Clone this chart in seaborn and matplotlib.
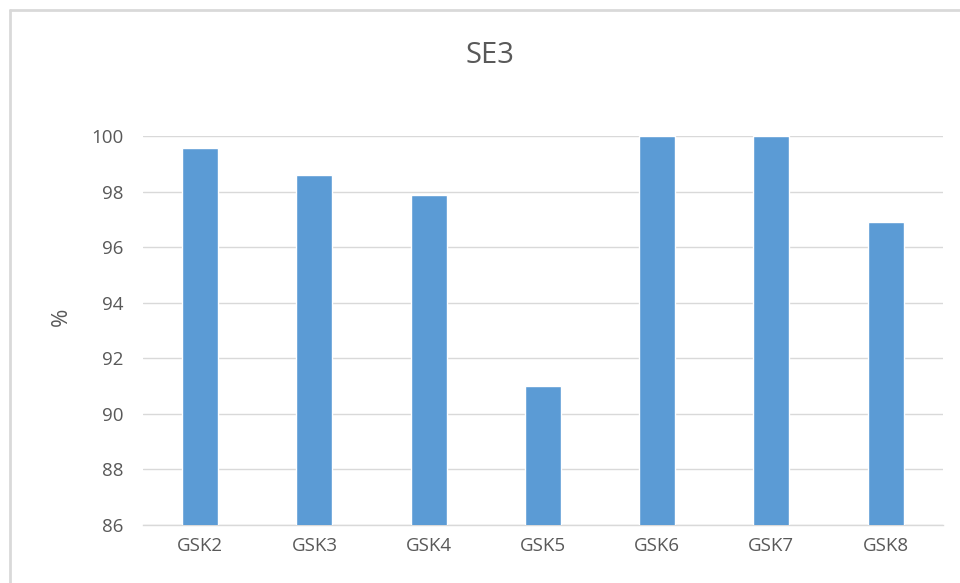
import matplotlib
matplotlib.use("Agg")
import matplotlib.pyplot as plt
from matplotlib.lines import Line2D
import seaborn as sns
import pandas as pd

categories = ["GSK2", "GSK3", "GSK4", "GSK5", "GSK6", "GSK7", "GSK8"]
values = [99.6, 98.6, 97.9, 91.0, 100.0, 100.0, 96.9]
y_ticks = [86, 88, 90, 92, 94, 96, 98, 100]

sns.set_theme(style="white")
plt.rcParams["font.family"] = ["Open Sans", "DejaVu Sans"]

text_color = "#595959"
grid_color = "#d9d9d9"
bar_color = "#5b9bd5"

df = pd.DataFrame({"group": categories, "pct": values})

fig = plt.figure(figsize=(9.6, 5.83), dpi=100)
fig.patch.set_facecolor("white")
ax = fig.add_axes([0.149, 0.0995, 0.833, 0.6665])

sns.barplot(data=df, x="group", y="pct", color=bar_color, width=0.315,
            saturation=1, ax=ax, zorder=3)

ax.set_ylim(86, 100)
ax.set_yticks(y_ticks)
ax.set_yticklabels([str(t) for t in y_ticks])
ax.yaxis.grid(True, color=grid_color, linewidth=1.0, zorder=0)
ax.set_axisbelow(True)

for side in ["top", "right", "left"]:
    ax.spines[side].set_visible(False)
ax.spines["bottom"].set_color(grid_color)
ax.spines["bottom"].set_linewidth(1.0)

ax.tick_params(axis="both", length=0, labelsize=13.5, colors=text_color)
ax.tick_params(axis="y", pad=14)
ax.tick_params(axis="x", pad=9)
ax.set_xlabel("")
ax.set_ylabel("")

fig.text(61 / 960, 1 - 317 / 583, "%", rotation=90, ha="center", va="center",
         fontsize=16, color=text_color)
fig.text(0.51, 0.905, "SE3", ha="center", va="center", fontsize=21, color=text_color)

# chart frame (top and left edges)
fig.add_artist(Line2D([10 / 960, 10 / 960], [0, 1 - 10 / 583],
                      transform=fig.transFigure, color=grid_color, linewidth=2))
fig.add_artist(Line2D([10 / 960, 1], [1 - 10 / 583, 1 - 10 / 583],
                      transform=fig.transFigure, color=grid_color, linewidth=2))

fig.savefig("out.png", dpi=100)
